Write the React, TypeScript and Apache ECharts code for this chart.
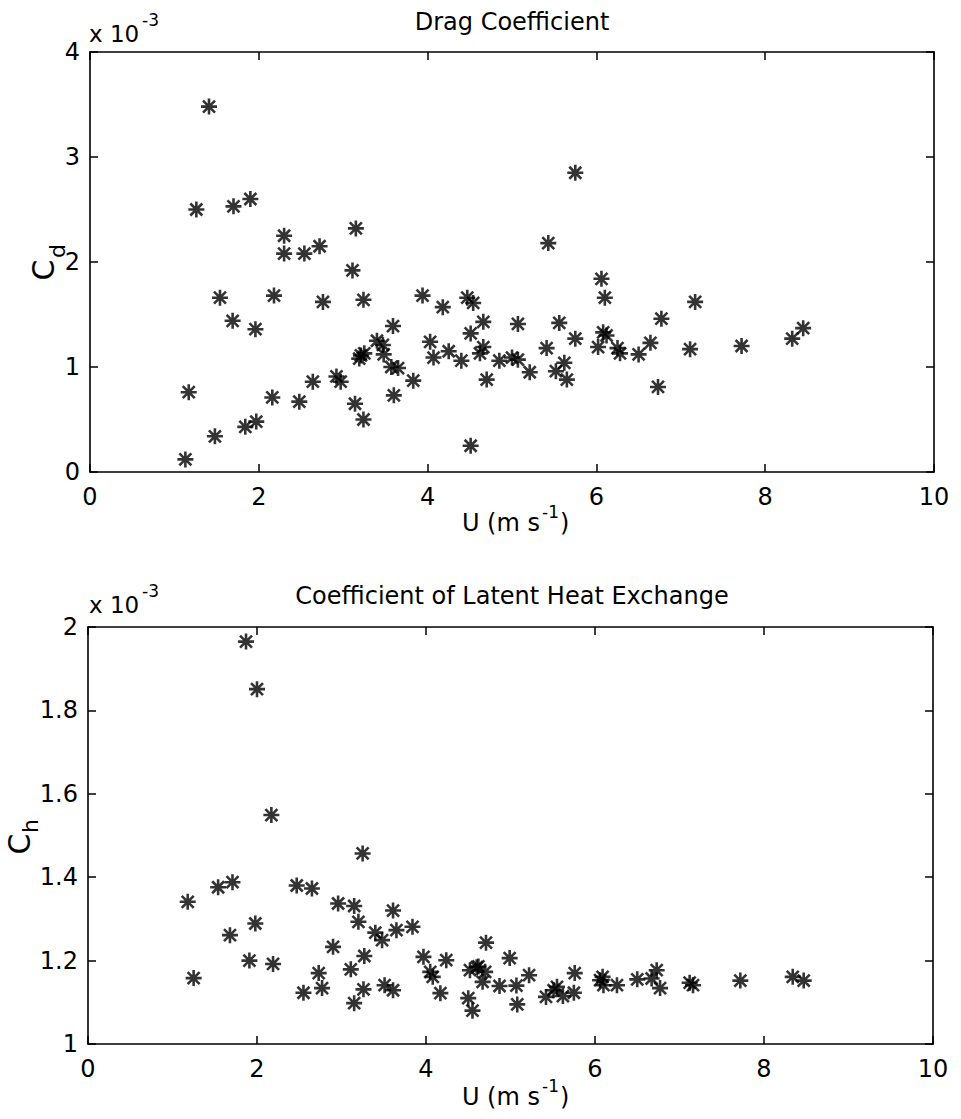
import React, { useEffect, useRef } from "react";
import * as echarts from "echarts";

// ---- Data ----
const X_TICKS = [0, 2, 4, 6, 8, 10];
const CD_TICKS = [0, 1, 2, 3, 4];
const CH_TICKS = [1, 1.2, 1.4, 1.6, 1.8, 2];

// Drag coefficient (x 10^-3) vs wind speed U
const dragU = [
  1.13, 1.17, 1.26, 1.41, 1.48, 1.54, 1.69, 1.70, 1.84, 1.90, 1.96, 1.97, 2.16, 2.18,
  2.30, 2.30, 2.48, 2.54, 2.64, 2.72, 2.76, 2.92, 2.97, 3.11, 3.14, 3.15, 3.19, 3.21,
  3.24, 3.24, 3.25, 3.40, 3.47, 3.48, 3.57, 3.59, 3.60, 3.65, 3.83, 3.94, 4.03, 4.07,
  4.18, 4.25, 4.40, 4.47, 4.51, 4.51, 4.54, 4.62, 4.66, 4.66, 4.70, 4.85, 5.00, 5.07,
  5.07, 5.21, 5.41, 5.43, 5.52, 5.56, 5.62, 5.65, 5.75, 5.75, 6.02, 6.06, 6.08, 6.10,
  6.12, 6.25, 6.28, 6.50, 6.64, 6.73, 6.77, 7.11, 7.17, 7.72, 8.32, 8.45,
];
const dragCd = [
  0.12, 0.76, 2.50, 3.48, 0.34, 1.66, 1.44, 2.53, 0.43, 2.60, 1.36, 0.48, 0.71, 1.68,
  2.25, 2.08, 0.67, 2.08, 0.86, 2.15, 1.62, 0.91, 0.86, 1.92, 0.65, 2.32, 1.08, 1.11,
  1.64, 0.50, 1.13, 1.25, 1.21, 1.12, 1.00, 1.39, 0.73, 0.99, 0.87, 1.68, 1.24, 1.09,
  1.57, 1.15, 1.06, 1.66, 1.32, 0.25, 1.61, 1.13, 1.19, 1.43, 0.88, 1.06, 1.09, 1.07,
  1.41, 0.95, 1.18, 2.18, 0.96, 1.42, 1.04, 0.88, 1.27, 2.85, 1.19, 1.84, 1.33, 1.66,
  1.30, 1.18, 1.13, 1.12, 1.23, 0.81, 1.46, 1.17, 1.62, 1.20, 1.27, 1.37,
];

// Coefficient of latent heat exchange (x 10^-3) vs wind speed U
const heatU = [
  1.18, 1.25, 1.54, 1.68, 1.71, 1.87, 1.91, 1.98, 2.00, 2.17, 2.19, 2.47, 2.55, 2.65,
  2.73, 2.77, 2.90, 2.96, 3.11, 3.15, 3.15, 3.20, 3.25, 3.26, 3.27, 3.40, 3.48, 3.51,
  3.61, 3.61, 3.65, 3.84, 3.97, 4.05, 4.08, 4.17, 4.24, 4.50, 4.52, 4.55, 4.60, 4.62,
  4.67, 4.70, 4.71, 4.87, 4.99, 5.07, 5.08, 5.22, 5.42, 5.51, 5.55, 5.62, 5.75, 5.76,
  6.06, 6.09, 6.10, 6.26, 6.50, 6.67, 6.73, 6.77, 7.12, 7.16, 7.72, 8.34, 8.47,
];
const heatCh = [
  1.341, 1.158, 1.376, 1.261, 1.388, 1.965, 1.200, 1.289, 1.851, 1.549, 1.192, 1.380, 1.123, 1.373,
  1.170, 1.134, 1.233, 1.337, 1.179, 1.331, 1.098, 1.293, 1.457, 1.131, 1.211, 1.267, 1.249, 1.141,
  1.320, 1.129, 1.273, 1.281, 1.209, 1.173, 1.161, 1.122, 1.201, 1.110, 1.177, 1.080, 1.184, 1.186,
  1.149, 1.173, 1.243, 1.139, 1.206, 1.140, 1.095, 1.165, 1.113, 1.129, 1.137, 1.115, 1.123, 1.170,
  1.153, 1.161, 1.141, 1.141, 1.155, 1.157, 1.177, 1.134, 1.147, 1.141, 1.152, 1.161, 1.152,
];

const FONT = "DejaVu Sans";
const STAR = "path://M0,-8L0,8M-8,0L8,0M-6,-6L6,6M-6,6L6,-6";

const axisLine = { show: true, onZero: false, lineStyle: { color: "#000", width: 1.6 } };
const tickIn = { show: true, inside: true, length: 8, lineStyle: { color: "#000", width: 1.5 } };
const label = (margin: number) => ({ color: "#000", fontSize: 24, fontFamily: FONT, margin });

function xAxes(grid: number) {
  const base = {
    gridIndex: grid, type: "value", min: X_TICKS[0], max: X_TICKS[X_TICKS.length - 1],
    interval: X_TICKS[1] - X_TICKS[0], splitLine: { show: false }, axisLine, axisTick: tickIn,
  };
  return [
    { ...base, position: "bottom", axisLabel: label(13) },
    { ...base, position: "top", axisLabel: { show: false } },
  ];
}
function yAxes(grid: number, ticks: number[]) {
  const base = {
    gridIndex: grid, type: "value", min: ticks[0], max: ticks[ticks.length - 1],
    interval: +(ticks[1] - ticks[0]).toFixed(6), splitLine: { show: false }, axisLine, axisTick: tickIn,
  };
  return [
    { ...base, position: "left", axisLabel: label(10) },
    { ...base, position: "right", axisLabel: { show: false } },
  ];
}

const txt = (x: number, y: number, text: string, size: number, align = "center", rot = 0) => ({
  type: "text", x, y, rotation: rot, silent: true,
  style: { text, fontSize: size, fontFamily: FONT, fill: "#000", align, verticalAlign: "middle" },
});

export default function App() {
  const ref = useRef<HTMLDivElement>(null);
  useEffect(() => {
    if (!ref.current) return;
    const chart = echarts.init(ref.current, null, { renderer: "svg" });
    const starStyle = { color: "transparent", borderColor: "#000", borderWidth: 2.6 };
    chart.setOption({
      animation: false,
      backgroundColor: "#fff",
      grid: [
        { left: 90, top: 52, width: 844, height: 420 },
        { left: 88, top: 627, width: 845, height: 417 },
      ],
      xAxis: [...xAxes(0), ...xAxes(1)],
      yAxis: [...yAxes(0, CD_TICKS), ...yAxes(1, CH_TICKS)],
      series: [
        {
          type: "scatter", xAxisIndex: 0, yAxisIndex: 0, symbol: STAR, symbolSize: 16,
          itemStyle: starStyle, data: dragU.map((u, i) => [u, dragCd[i]]),
        },
        {
          type: "scatter", xAxisIndex: 2, yAxisIndex: 2, symbol: STAR, symbolSize: 16,
          itemStyle: starStyle, data: heatU.map((u, i) => [u, heatCh[i]]),
        },
      ],
      graphic: [
        txt(512, 22, "Drag Coefficient", 24),
        txt(89, 34, "x 10", 23, "left"),
        txt(142, 20, "-3", 17, "left"),
        txt(540, 523, "U (m s", 24, "right"),
        txt(542, 512, "-1", 17, "left"),
        txt(560, 523, ")", 24, "left"),
        txt(43, 270, "C", 30, "center", Math.PI / 2),
        txt(57, 251, "d", 22, "center", Math.PI / 2),

        txt(512, 596, "Coefficient of Latent Heat Exchange", 24),
        txt(89, 605, "x 10", 23, "left"),
        txt(142, 591, "-3", 17, "left"),
        txt(540, 1097, "U (m s", 24, "right"),
        txt(542, 1086, "-1", 17, "left"),
        txt(560, 1097, ")", 24, "left"),
        txt(19, 844, "C", 30, "center", Math.PI / 2),
        txt(30, 826, "h", 22, "center", Math.PI / 2),
      ],
    });
    return () => chart.dispose();
  }, []);
  return (
    <div
      ref={ref}
      style={{ position: "absolute", left: 0, top: 0, width: 961, height: 1119, background: "#fff" }}
    />
  );
}
